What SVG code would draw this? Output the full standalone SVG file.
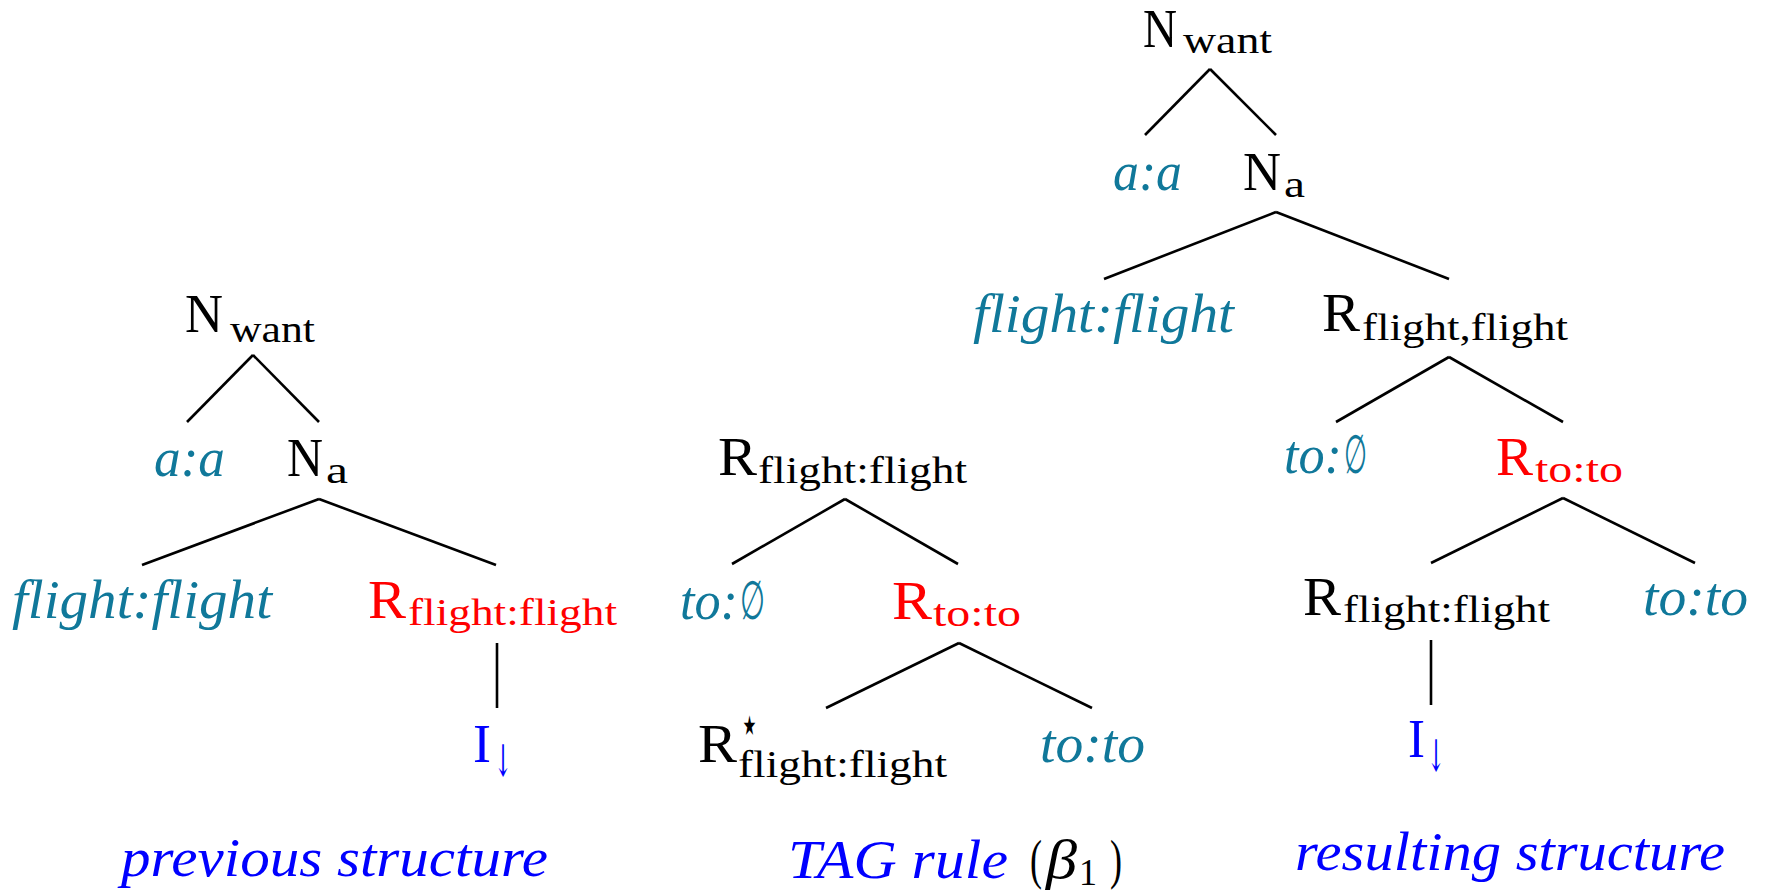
<svg xmlns="http://www.w3.org/2000/svg" width="1767" height="890" viewBox="0 0 1767 890">
<style>
text{font-family:"Liberation Serif","DejaVu Serif",serif;font-size:54px;}
.s{font-size:38px;}
.i{font-style:italic;}
.teal{fill:#10789a;}
.red{fill:#ff0000;}
.blue{fill:#0000ff;}
.k{fill:#000000;}
.sym{font-family:"DejaVu Serif","DejaVu Sans",serif;}
.arr{font-size:44px;}
.edge{stroke:#000000;stroke-width:2.6;fill:none;}
</style>
<rect width="1767" height="890" fill="#ffffff"/>
<g id="connectors">
<!-- left tree -->
<line class="edge" x1="253" y1="355" x2="187" y2="422"/>
<line class="edge" x1="253" y1="355" x2="319" y2="422"/>
<line class="edge" x1="319" y1="499" x2="142" y2="565"/>
<line class="edge" x1="319" y1="499" x2="496" y2="565"/>
<line class="edge" x1="497" y1="643" x2="497" y2="708"/>
<!-- middle tree -->
<line class="edge" x1="845" y1="499" x2="732" y2="564"/>
<line class="edge" x1="845" y1="499" x2="958" y2="564"/>
<line class="edge" x1="959" y1="643" x2="826" y2="708"/>
<line class="edge" x1="959" y1="643" x2="1092" y2="708"/>
<!-- right tree -->
<line class="edge" x1="1210" y1="69" x2="1145" y2="135"/>
<line class="edge" x1="1210" y1="69" x2="1276" y2="135"/>
<line class="edge" x1="1276" y1="212" x2="1104" y2="279"/>
<line class="edge" x1="1276" y1="212" x2="1449" y2="279"/>
<line class="edge" x1="1449" y1="357" x2="1336" y2="422"/>
<line class="edge" x1="1449" y1="357" x2="1563" y2="422"/>
<line class="edge" x1="1563" y1="498" x2="1431" y2="563"/>
<line class="edge" x1="1563" y1="498" x2="1695" y2="563"/>
<line class="edge" x1="1431" y1="640" x2="1431" y2="705"/>
</g>

<!-- left tree: previous structure -->
<g id="L_Nwant" class="k">
<text x="185" y="332" textLength="38" lengthAdjust="spacingAndGlyphs">N</text>
<text class="s" x="230" y="342" textLength="85" lengthAdjust="spacingAndGlyphs">want</text>
</g>
<g id="L_aa"><text class="i teal" x="154" y="476" textLength="71" lengthAdjust="spacingAndGlyphs">a:a</text></g>
<g id="L_Na" class="k">
<text x="287" y="476" textLength="36" lengthAdjust="spacingAndGlyphs">N</text>
<text class="s" x="326" y="483" textLength="22" lengthAdjust="spacingAndGlyphs">a</text>
</g>
<g id="L_ff"><text class="i teal" x="12" y="618" textLength="260" lengthAdjust="spacingAndGlyphs">flight:flight</text></g>
<g id="L_R" class="red">
<text x="368" y="618" textLength="38" lengthAdjust="spacingAndGlyphs">R</text>
<text class="s" x="408" y="625" textLength="209" lengthAdjust="spacingAndGlyphs">flight:flight</text>
</g>
<g id="L_I" class="blue">
<text x="473" y="762" textLength="18" lengthAdjust="spacingAndGlyphs">I</text>
<text class="sym arr" x="494" y="776" textLength="18" lengthAdjust="spacingAndGlyphs">↓</text>
</g>
<g id="L_cap"><text class="i blue" x="121" y="876" textLength="427" lengthAdjust="spacingAndGlyphs">previous structure</text></g>

<!-- middle tree: TAG rule -->
<g id="M_R" class="k">
<text x="718" y="475" textLength="39" lengthAdjust="spacingAndGlyphs">R</text>
<text class="s" x="758" y="483" textLength="209" lengthAdjust="spacingAndGlyphs">flight:flight</text>
</g>
<g id="M_to0" class="teal">
<text class="i" x="680" y="619" textLength="58" lengthAdjust="spacingAndGlyphs">to:</text>
<text class="sym" x="740" y="619" textLength="25" lengthAdjust="spacingAndGlyphs">∅</text>
</g>
<g id="M_Rtoto" class="red">
<text x="892" y="619" textLength="40" lengthAdjust="spacingAndGlyphs">R</text>
<text class="s" x="933" y="626" textLength="88" lengthAdjust="spacingAndGlyphs">to:to</text>
</g>
<g id="M_Rstar" class="k">
<text x="698" y="762" textLength="39" lengthAdjust="spacingAndGlyphs">R</text>
<text class="sym" x="740" y="743" font-size="52" textLength="19" lengthAdjust="spacingAndGlyphs">⋆</text>
<text class="s" x="738" y="777" textLength="209" lengthAdjust="spacingAndGlyphs">flight:flight</text>
</g>
<g id="M_toto"><text class="i teal" x="1040" y="762" textLength="105" lengthAdjust="spacingAndGlyphs">to:to</text></g>
<g id="M_cap">
<text class="i blue" x="788" y="878" textLength="220" lengthAdjust="spacingAndGlyphs">TAG rule</text>
<text class="k" x="1030" y="878" textLength="12" lengthAdjust="spacingAndGlyphs">(</text>
<text class="i k" x="1046" y="878" textLength="31" lengthAdjust="spacingAndGlyphs">β</text>
<text class="s k" x="1079" y="885" textLength="18" lengthAdjust="spacingAndGlyphs">1</text>
<text class="k" x="1110" y="878" textLength="12" lengthAdjust="spacingAndGlyphs">)</text>
</g>

<!-- right tree: resulting structure -->
<g id="R_Nwant" class="k">
<text x="1143" y="47" textLength="34" lengthAdjust="spacingAndGlyphs">N</text>
<text class="s" x="1183" y="53" textLength="89" lengthAdjust="spacingAndGlyphs">want</text>
</g>
<g id="R_aa"><text class="i teal" x="1113" y="190" textLength="69" lengthAdjust="spacingAndGlyphs">a:a</text></g>
<g id="R_Na" class="k">
<text x="1243" y="190" textLength="38" lengthAdjust="spacingAndGlyphs">N</text>
<text class="s" x="1284" y="197" textLength="21" lengthAdjust="spacingAndGlyphs">a</text>
</g>
<g id="R_ff"><text class="i teal" x="973" y="332" textLength="261" lengthAdjust="spacingAndGlyphs">flight:flight</text></g>
<g id="R_Rff" class="k">
<text x="1322" y="331" textLength="38" lengthAdjust="spacingAndGlyphs">R</text>
<text class="s" x="1362" y="340" textLength="206" lengthAdjust="spacingAndGlyphs">flight,flight</text>
</g>
<g id="R_to0" class="teal">
<text class="i" x="1284" y="473" textLength="58" lengthAdjust="spacingAndGlyphs">to:</text>
<text class="sym" x="1344" y="473" textLength="23" lengthAdjust="spacingAndGlyphs">∅</text>
</g>
<g id="R_Rtoto" class="red">
<text x="1496" y="475" textLength="37" lengthAdjust="spacingAndGlyphs">R</text>
<text class="s" x="1535" y="482" textLength="88" lengthAdjust="spacingAndGlyphs">to:to</text>
</g>
<g id="R_Rff2" class="k">
<text x="1303" y="615" textLength="38" lengthAdjust="spacingAndGlyphs">R</text>
<text class="s" x="1343" y="622" textLength="207" lengthAdjust="spacingAndGlyphs">flight:flight</text>
</g>
<g id="R_toto"><text class="i teal" x="1643" y="615" textLength="105" lengthAdjust="spacingAndGlyphs">to:to</text></g>
<g id="R_I" class="blue">
<text x="1408" y="757" textLength="17" lengthAdjust="spacingAndGlyphs">I</text>
<text class="sym arr" x="1427" y="771" textLength="18" lengthAdjust="spacingAndGlyphs">↓</text>
</g>
<g id="R_cap"><text class="i blue" x="1295" y="870" textLength="430" lengthAdjust="spacingAndGlyphs">resulting structure</text></g>
</svg>
